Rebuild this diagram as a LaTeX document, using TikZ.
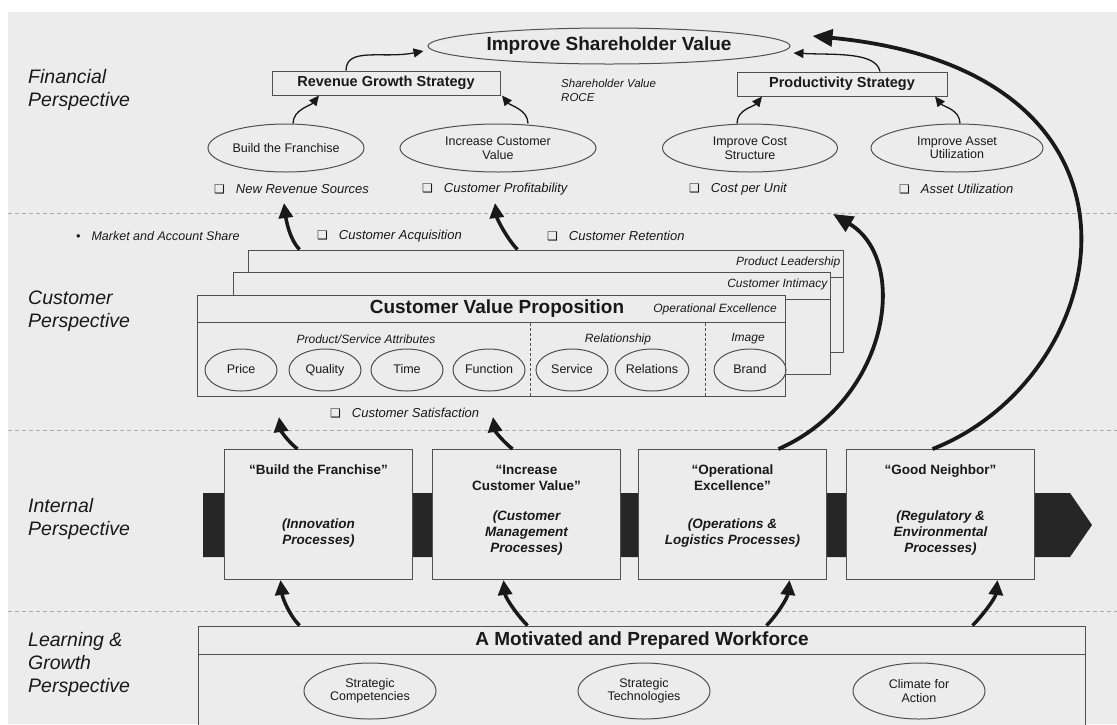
\documentclass[tikz,border=0pt]{standalone}
\usepackage{fontspec}
\setmainfont{Liberation Sans}
\newfontfamily\symfont{DejaVu Sans}
\usetikzlibrary{arrows.meta, shapes.geometric, positioning}
\definecolor{bgcol}{RGB}{236,236,236}
\definecolor{linecol}{RGB}{80,80,80}
\definecolor{bandcol}{RGB}{38,38,38}
\definecolor{inkcol}{RGB}{25,25,25}
\newcommand{\fsz}[2]{\fontsize{#1}{#2}\selectfont}
\newcommand{\chkbox}{{\symfont\fsz{12}{14}\upshape ❑}\hspace{11pt}}

\begin{document}
\begin{tikzpicture}[x=1pt, y=-1pt, text=inkcol,
  persp/.style={anchor=west, align=left, inner sep=0pt, font=\fsz{19.5}{23}\itshape},
  goal/.style={ellipse, draw=linecol, line width=1pt, inner sep=0pt},
  strat/.style={rectangle, draw=linecol, line width=1pt, inner sep=0pt, font=\fsz{14.5}{17}\bfseries},
  obj/.style={ellipse, draw=linecol, line width=1pt, inner sep=0pt, minimum height=48pt, align=center, font=\fsz{12.5}{13.5}},
  measure/.style={anchor=west, inner sep=0pt, font=\fsz{13}{15}\itshape},
  panel/.style={rectangle, draw=linecol, line width=1pt, fill=bgcol, inner sep=0pt},
  tag/.style={inner sep=0pt, font=\fsz{12}{14}\itshape},
  attr/.style={ellipse, draw=linecol, line width=1pt, minimum width=72pt, minimum height=42pt, inner sep=0pt, text height=9pt, text depth=2.5pt, font=\fsz{12.5}{14}},
  proc/.style={rectangle, draw=linecol, line width=1pt, fill=bgcol, minimum width=188pt, minimum height=130pt, inner sep=0pt},
  ptitle/.style={anchor=north, align=center, inner sep=0pt, font=\fsz{13.5}{16}\bfseries},
  psub/.style={align=center, inner sep=0pt, font=\fsz{13.5}{16}\bfseries\itshape},
  divider/.style={draw=gray!65, line width=1pt, dash pattern=on 4pt off 3pt},
  linkthin/.style={-{Triangle[length=10pt,width=9pt]}, line width=1.3pt, draw=inkcol},
  linkthick/.style={-{Triangle[length=15pt,width=14pt]}, line width=3.5pt, draw=inkcol},
  linkbig/.style={-{Triangle[length=20pt,width=17pt]}, line width=3.8pt, draw=inkcol}]

\useasboundingbox (0,0) rectangle (1117,724);
\fill[bgcol] (8,12) rectangle (1117,724);
\foreach \yy in {213,430,611}
  \draw[divider] (8,\yy) -- (1117,\yy);

% financial
\node[persp] (fin) at (28,90) {Financial\\Perspective};
\node[goal, minimum width=362pt, minimum height=36pt, font=\fsz{19}{22}\bfseries] (sv) at (609,46) {Improve Shareholder Value};
\node[strat, minimum width=228pt, minimum height=24pt] (rgs) at (386,83) {Revenue Growth Strategy};
\node[anchor=west, align=left, inner sep=0pt, font=\fsz{11.5}{14}\itshape] (roce) at (561,90) {Shareholder Value\\ROCE};
\node[strat, minimum width=210pt, minimum height=24pt] (ps) at (842,84) {Productivity Strategy};
\node[obj, minimum width=156pt] (bf) at (286,148) {Build the Franchise};
\node[obj, minimum width=196pt] (icv) at (498,148) {Increase Customer\\Value};
\node[obj, minimum width=175pt] (ics) at (750,148) {Improve Cost\\Structure};
\node[obj, minimum width=172pt] (iau) at (957,148) {Improve Asset\\Utilization};
\node[measure] (nrs) at (214,189) {\chkbox New Revenue Sources};
\node[measure] (cpr) at (422,189) {\chkbox Customer Profitability};
\node[measure] (cpu) at (689,189) {\chkbox Cost per Unit};
\node[measure] (aut) at (899,189) {\chkbox Asset Utilization};

% customer
\node[persp] (cus) at (28,311) {Customer\\Perspective};
\node[anchor=west, inner sep=0pt, font=\fsz{12.5}{15}\itshape] (mas) at (76,236) {\textbullet\hspace{11pt}Market and Account Share};
\node[measure] (cacq) at (317,236) {\chkbox Customer Acquisition};
\node[measure] (cret) at (547,236) {\chkbox Customer Retention};
\node[panel, minimum width=595pt, minimum height=102pt] (pl) at (545.5,301) {};
\draw[linecol, line width=1pt] ([yshift=-28pt]pl.north west) -- ([yshift=-28pt]pl.north east);
\node[tag, anchor=north east] (pltxt) at ([xshift=-3pt, yshift=-7pt]pl.north east) {Product Leadership};
\node[panel, minimum width=597pt, minimum height=102pt] (ci) at (531.5,323) {};
\draw[linecol, line width=1pt] ([yshift=-28pt]ci.north west) -- ([yshift=-28pt]ci.north east);
\node[tag, anchor=north east] (citxt) at ([xshift=-3pt, yshift=-7pt]ci.north east) {Customer Intimacy};
\node[panel, minimum width=588pt, minimum height=101pt] (cvp) at (491,345.5) {};
\draw[linecol, line width=1pt] ([yshift=-28pt]cvp.north west) -- ([yshift=-28pt]cvp.north east);
\node[inner sep=0pt, font=\fsz{19}{22}\bfseries] (cvptxt) at (497,309) {Customer Value Proposition};
\node[tag, anchor=east] (opx) at (777,309) {Operational Excellence};
\draw[linecol, line width=0.8pt, dash pattern=on 3pt off 2pt] (530,323) -- (530,396);
\draw[linecol, line width=0.8pt, dash pattern=on 3pt off 2pt] (705,323) -- (705,396);
\node[tag] (psa) at (366,339) {Product/Service Attributes};
\node[tag] (rel) at (618,339) {Relationship};
\node[tag] (img) at (748,339) {Image};
\node[attr] (price) at (241,370) {Price};
\node[attr] (qual) at (325,370) {Quality};
\node[attr] (time) at (407,370) {Time};
\node[attr] (func) at (489,370) {Function};
\node[attr] (serv) at (572,370) {Service};
\node[attr] (rela) at (652,370) {Relations};
\node[attr] (brand) at (750,370) {Brand};
\node[measure] (csat) at (330,413) {\chkbox Customer Satisfaction};

% internal
\node[persp] (int) at (28,519) {Internal\\Perspective};
\fill[bandcol] (203,493) -- (1070,493) -- (1092,525) -- (1070,557) -- (203,557) -- cycle;
\node[proc] (bfp) at (318.5,514.5) {};
\node[proc] (icvp) at (526.5,514.5) {};
\node[proc] (oep) at (732.5,514.5) {};
\node[proc] (gnp) at (940.5,514.5) {};
\node[ptitle] at ([yshift=-16pt]bfp.north) {“Build the Franchise”};
\node[ptitle] at ([yshift=-16pt]icvp.north) {“Increase\\Customer Value”};
\node[ptitle] at ([yshift=-16pt]oep.north) {“Operational\\Excellence”};
\node[ptitle] at ([yshift=-16pt]gnp.north) {“Good Neighbor”};
\node[psub] at ([yshift=-18pt]bfp.center) {(Innovation\\Processes)};
\node[psub] at ([yshift=-18pt]icvp.center) {(Customer\\Management\\Processes)};
\node[psub] at ([yshift=-18pt]oep.center) {(Operations \&\\Logistics Processes)};
\node[psub] at ([yshift=-18pt]gnp.center) {(Regulatory \&\\Environmental\\Processes)};

% learning and growth
\node[persp] (lg) at (28,664) {Learning \&\\Growth\\Perspective};
\node[panel, minimum width=887pt, minimum height=120pt] (wf) at (641.5,686) {};
\draw[linecol, line width=1pt] ([yshift=-29pt]wf.north west) -- ([yshift=-29pt]wf.north east);
\node[inner sep=0pt, font=\fsz{19}{22}\bfseries] (wftxt) at (642,641) {A Motivated and Prepared Workforce};
\node[obj, minimum width=132pt, minimum height=56pt] (sc) at (370,691) {Strategic\\Competencies};
\node[obj, minimum width=132pt, minimum height=56pt] (st) at (644,691) {Strategic\\Technologies};
\node[obj, minimum width=132pt, minimum height=56pt] (ca) at (919,691) {Climate for\\Action};

% free arrow ends
\coordinate (c1tip) at (284,203);
\coordinate (c2tip) at (495,203);
\coordinate (i1tip) at (279,417);
\coordinate (i2tip) at (493,417);
\coordinate (oetip) at (833,214);

% links
\draw[linkthin] ([xshift=7pt]bf.north) .. controls +(0,-14) and +(-8,10) .. ([xshift=-67pt]rgs.south);
\draw[linkthin] ([xshift=30pt]icv.north) .. controls +(0,-14) and +(8,10) .. ([xshift=116pt]rgs.south);
\draw[linkthin] ([xshift=-13pt]ics.north) .. controls +(0,-14) and +(-8,10) .. ([xshift=-80pt]ps.south);
\draw[linkthin] ([xshift=3pt]iau.north) .. controls +(0,-14) and +(8,10) .. ([xshift=93pt]ps.south);
\draw[linkthin] ([xshift=-40pt]rgs.north) .. controls +(0,-24) and +(-40,8) .. ([xshift=-4pt, yshift=-5pt]sv.west);
\draw[linkthin] ([xshift=38pt]ps.north) .. controls +(-4,-20) and +(40,2) .. ([xshift=3pt, yshift=-7pt]sv.east);
\draw[linkthick] ([xshift=52pt]pl.north west) .. controls +(-10,-10) and +(2,16) .. (c1tip);
\draw[linkthick] ([xshift=270pt]pl.north west) .. controls +(-10,-10) and +(2,16) .. (c2tip);
\draw[linkthick] ([xshift=-21pt]bfp.north) .. controls +(-10,-8) and +(2,14) .. (i1tip);
\draw[linkthick] ([xshift=-14pt]icvp.north) .. controls +(-10,-8) and +(2,14) .. (i2tip);
\draw[linkthick] ([xshift=102pt]wf.north west) .. controls +(-10,-10) and +(2,18) .. ([xshift=-38pt]bfp.south);
\draw[linkthick] ([xshift=330pt]wf.north west) .. controls +(-10,-10) and +(2,18) .. ([xshift=-23pt]icvp.south);
\draw[linkthick] ([xshift=569pt]wf.north west) .. controls +(10,-10) and +(-2,18) .. ([xshift=57pt]oep.south);
\draw[linkthick] ([xshift=775pt]wf.north west) .. controls +(10,-10) and +(-2,18) .. ([xshift=57pt]gnp.south);
\draw[linkbig] ([xshift=46pt]oep.north) .. controls +(111,-49) and +(77,46) .. (oetip);
\draw[linkbig] ([xshift=-8pt]gnp.north) .. controls +(184,-72) and +(366,35) .. ([xshift=22pt, yshift=10pt]sv.east);
\end{tikzpicture}
\end{document}
